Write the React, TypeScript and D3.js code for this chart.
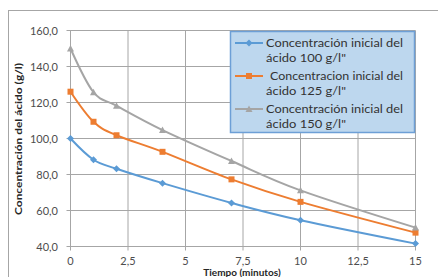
import React, { useEffect, useRef } from 'react';
import * as d3 from 'd3';

// valores
const tiempos = [0, 1, 2, 4, 7, 10, 15];
const serie100 = [100, 88.2, 83.2, 75.2, 64.2, 54.6, 41.6];
const serie125 = [126, 109.3, 101.8, 92.6, 77.3, 64.8, 47.7];
const serie150 = [150, 125.7, 118.2, 104.7, 87.5, 71.2, 50.5];
const xTicks = [0, 2.5, 5, 7.5, 10, 12.5, 15];
const yTicks = [40, 60, 80, 100, 120, 140, 160];

const series = [
  { lineas: ['Concentración  inicial del', 'ácido 100 g/l"'], valores: serie100, color: '#5b9bd5', marca: 'diamond', indent: 0 },
  { lineas: ['Concentracion  inicial del', 'ácido 125 g/l"'], valores: serie125, color: '#ed7d31', marca: 'square', indent: 4 },
  { lineas: ['Concentración  inicial del', 'ácido 150 g/l"'], valores: serie150, color: '#a5a5a5', marca: 'triangle', indent: 0 },
];

const App = () => {
  const svgRef = useRef<SVGSVGElement>(null);

  useEffect(() => {
    const svg = d3.select(svgRef.current);
    svg.selectAll('*').remove();

    const left = 70.5, right = 415.5, top = 30.5, bottom = 246.5;
    const x = d3.scaleLinear().domain([0, 15]).range([left, right]);
    const y = d3.scaleLinear().domain([40, 160]).range([bottom, top]);
    const font = 'Lato, "Liberation Sans", Arial, sans-serif';

    svg.append('rect').attr('width', 438).attr('height', 277).attr('fill', '#fff');

    // marco exterior
    svg.append('rect')
      .attr('x', 8.5).attr('y', 10.5).attr('width', 440).attr('height', 280)
      .attr('fill', 'none').attr('stroke', '#a6a6a6');

    // rejilla
    svg.append('g').selectAll('line').data(yTicks).enter().append('line')
      .attr('x1', left - 4).attr('x2', right)
      .attr('y1', d => y(d)).attr('y2', d => y(d))
      .attr('stroke', '#a6a6a6');
    svg.append('g').selectAll('line').data(xTicks).enter().append('line')
      .attr('x1', d => x(d)).attr('x2', d => x(d))
      .attr('y1', top).attr('y2', bottom + 4)
      .attr('stroke', '#a6a6a6');

    // etiquetas de ejes
    svg.append('g').selectAll('text').data(yTicks).enter().append('text')
      .attr('x', 58).attr('y', d => y(d) + 4)
      .attr('text-anchor', 'end')
      .attr('font-family', font).attr('font-size', 11).attr('fill', '#4d4d4d')
      .text(d => d.toFixed(1).replace('.', ','));
    svg.append('g').selectAll('text').data(xTicks).enter().append('text')
      .attr('x', d => x(d)).attr('y', 265)
      .attr('text-anchor', 'middle')
      .attr('font-family', font).attr('font-size', 11).attr('fill', '#4d4d4d')
      .text(d => String(d).replace('.', ','));

    svg.append('text')
      .attr('transform', 'translate(22,139) rotate(-90)')
      .attr('text-anchor', 'middle')
      .attr('font-family', font).attr('font-size', 10).attr('font-weight', 'bold')
      .attr('fill', '#262626')
      .attr('textLength', 152).attr('lengthAdjust', 'spacingAndGlyphs')
      .text('Concentración  del ácido  (g/l)');
    svg.append('text')
      .attr('x', 242).attr('y', 275.5)
      .attr('text-anchor', 'middle')
      .attr('font-family', font).attr('font-size', 10).attr('font-weight', 'bold')
      .attr('fill', '#262626')
      .text('Tiempo  (minutos)');

    const linea = d3.line<number>()
      .x((d, i) => x(tiempos[i]))
      .y(d => y(d))
      .curve(d3.curveCardinal.tension(0));

    const marcar = (g: any, tipo: string, color: string, cx: number, cy: number) => {
      if (tipo === 'diamond') {
        g.append('path').attr('d', `M${cx},${cy - 3.5}L${cx + 3.5},${cy}L${cx},${cy + 3.5}L${cx - 3.5},${cy}Z`).attr('fill', color);
      } else if (tipo === 'square') {
        g.append('rect').attr('x', cx - 3).attr('y', cy - 3).attr('width', 6).attr('height', 6).attr('fill', color);
      } else {
        g.append('path').attr('d', `M${cx},${cy - 3.5}L${cx + 3.5},${cy + 3}L${cx - 3.5},${cy + 3}Z`).attr('fill', color);
      }
    };

    series.forEach(s => {
      svg.append('path').datum(s.valores)
        .attr('d', linea)
        .attr('fill', 'none').attr('stroke', s.color).attr('stroke-width', 2);
      const g = svg.append('g');
      s.valores.forEach((v, i) => marcar(g, s.marca, s.color, x(tiempos[i]), y(v)));
    });

    // leyenda
    const lg = svg.append('g');
    lg.append('rect')
      .attr('x', 230.5).attr('y', 31.5).attr('width', 184).attr('height', 101)
      .attr('fill', '#bdd7ee').attr('stroke', '#6d9fd6').attr('stroke-width', 1.5);
    series.forEach((s, i) => {
      const yy = 43 + i * 33;
      lg.append('line').attr('x1', 235).attr('x2', 263).attr('y1', yy).attr('y2', yy)
        .attr('stroke', s.color).attr('stroke-width', 2);
      marcar(lg, s.marca, s.color, 249, yy);
      lg.append('text')
        .attr('x', 266 + s.indent).attr('y', yy + 4)
        .attr('font-family', font).attr('font-size', 11).attr('fill', '#333333')
        .attr('textLength', 137 - s.indent).attr('lengthAdjust', 'spacingAndGlyphs')
        .text(s.lineas[0]);
      lg.append('text')
        .attr('x', 266).attr('y', yy + 19)
        .attr('font-family', font).attr('font-size', 11).attr('fill', '#333333')
        .attr('textLength', 80).attr('lengthAdjust', 'spacingAndGlyphs')
        .text(s.lineas[1]);
    });
  }, []);

  return (
    <svg ref={svgRef} width={438} height={277} style={{ position: 'absolute', left: 0, top: 0 }}></svg>
  );
};

export default App;
